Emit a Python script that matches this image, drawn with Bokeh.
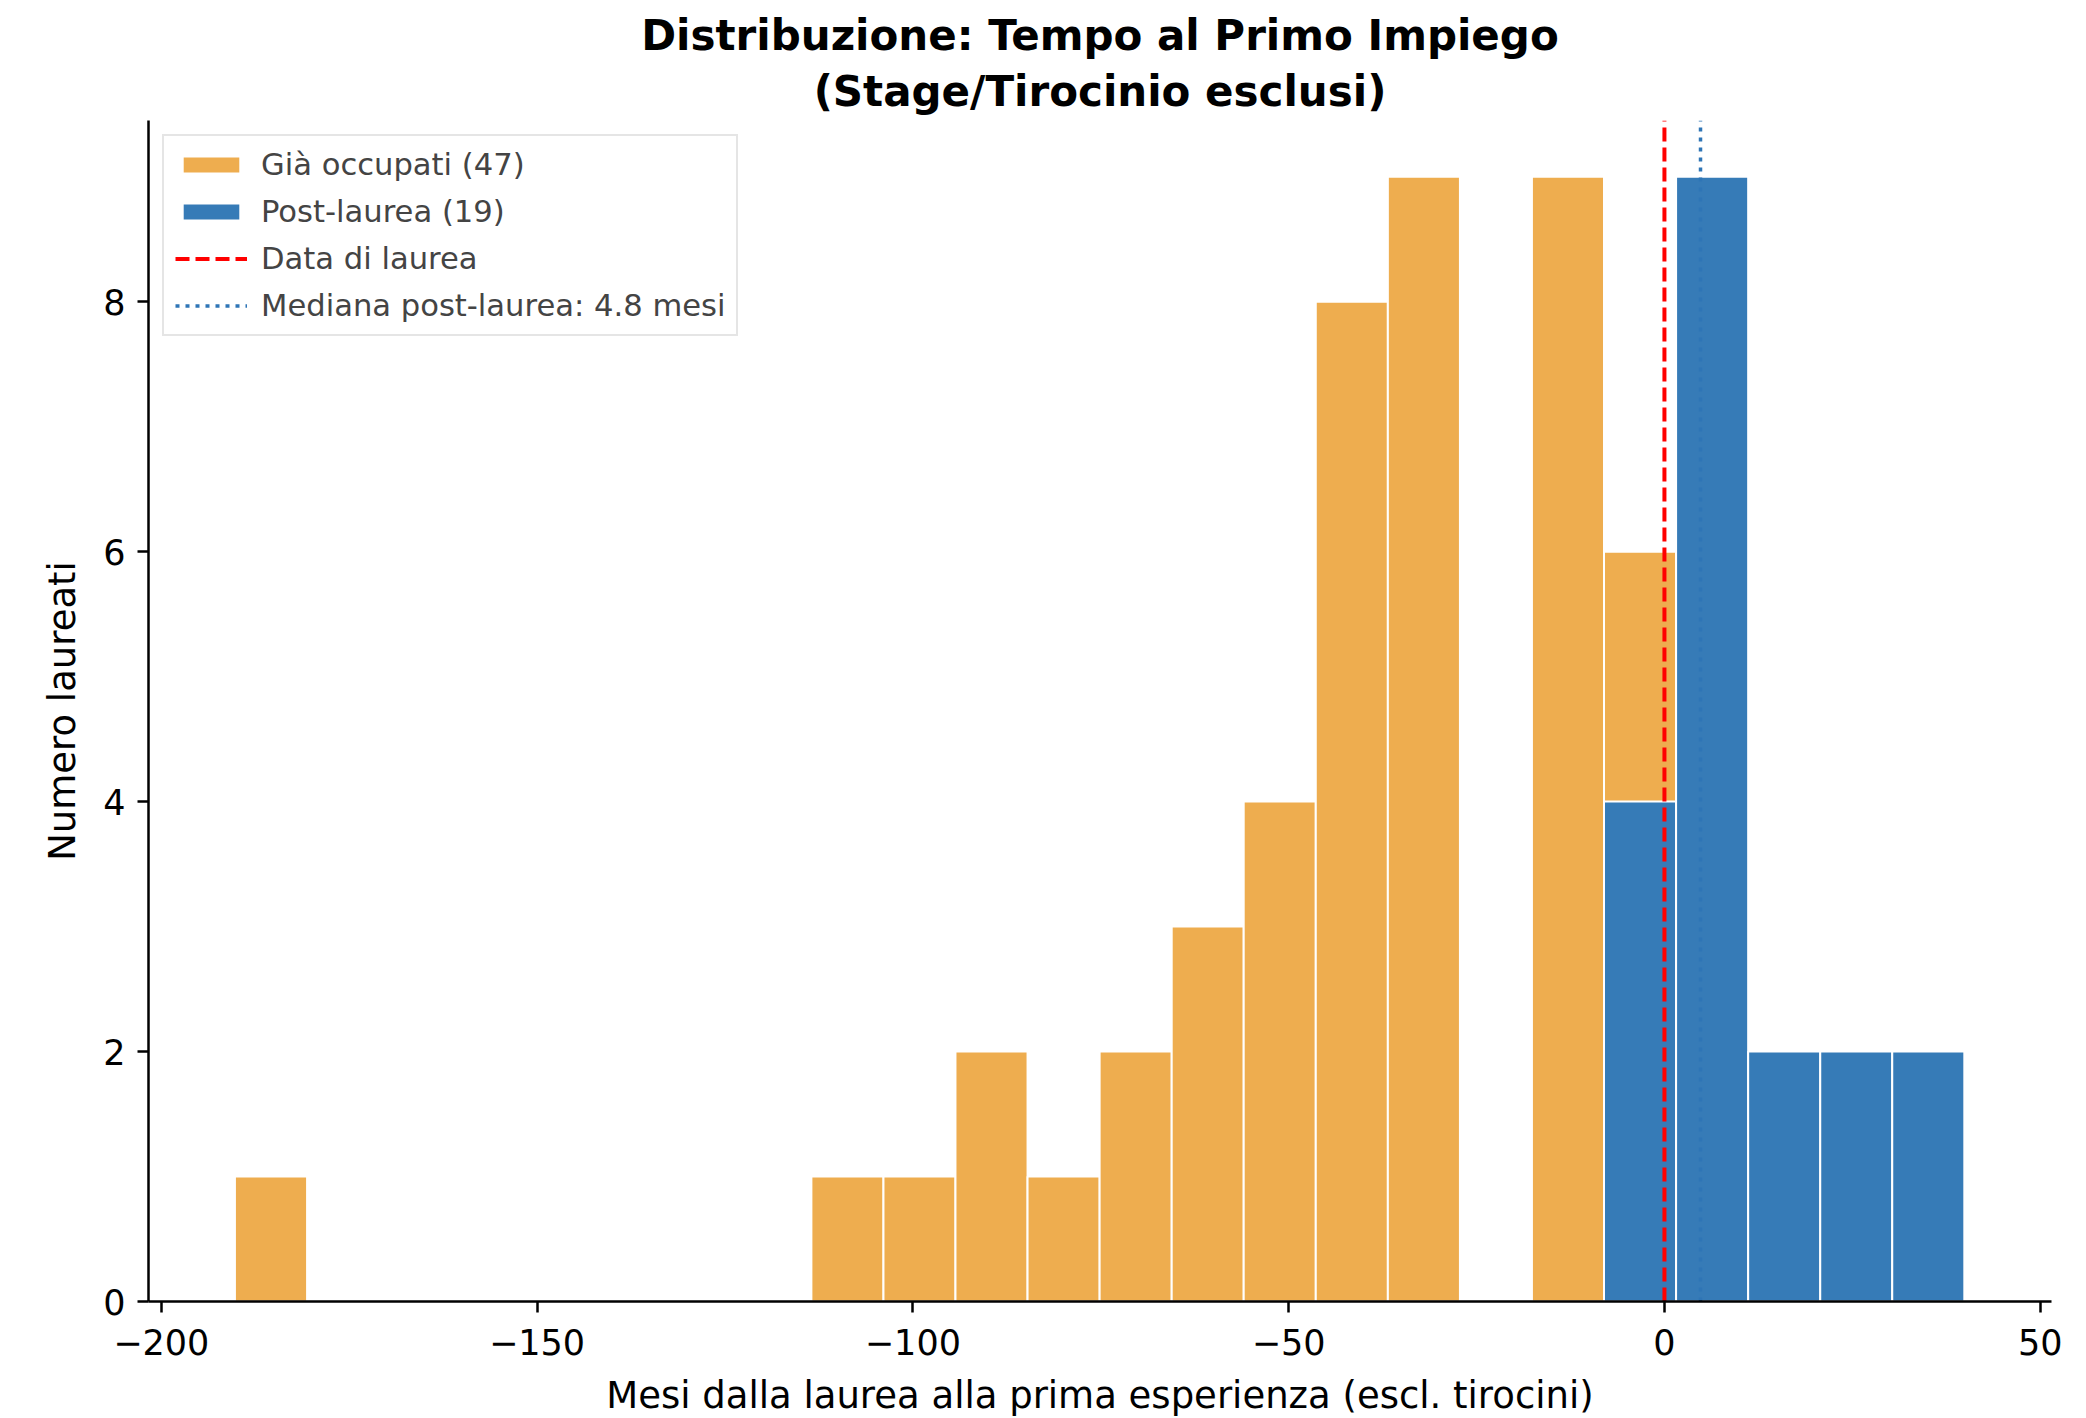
from bokeh.plotting import figure
from bokeh.models import (ColumnDataSource, Range1d, FixedTicker, Title, Legend, LegendItem)
from bokeh.embed import file_html
from bokeh.resources import INLINE

# ---- data ----
bin_edges = [-190.2, -180.6, -171.0, -161.4, -151.85, -142.26, -132.68, -123.09,
             -113.5, -103.91, -94.33, -84.74, -75.15, -65.56, -55.98, -46.39,
             -36.8, -27.21, -17.63, -8.04, 1.55, 11.14, 20.73, 30.31, 39.9]
counts_gia = [1, 0, 0, 0, 0, 0, 0, 0, 1, 1, 2, 1, 2, 3, 4, 8, 9, 0, 9, 6, 0, 0, 0, 0]
counts_post = [0, 0, 0, 0, 0, 0, 0, 0, 0, 0, 0, 0, 0, 0, 0, 0, 0, 0, 0, 4, 9, 2, 2, 2]
graduation = 0.0
median_post = 4.8
x_ticks = [-200, -150, -100, -50, 0, 50]
y_ticks = [0, 2, 4, 6, 8]
label_gia = "Già occupati (47)"
label_post = "Post-laurea (19)"
label_grad = "Data di laurea"
label_median = "Mediana post-laurea: 4.8 mesi"
title_line1 = "Distribuzione: Tempo al Primo Impiego"
title_line2 = "(Stage/Tirocinio esclusi)"

FONT = "DejaVu Sans"
ORANGE = "#EEAD4F"
BLUE = "#367BB7"

def bars(counts):
    left, right, top = [], [], []
    for i, c in enumerate(counts):
        if c > 0:
            left.append(bin_edges[i]); right.append(bin_edges[i + 1]); top.append(c)
    return ColumnDataSource(dict(left=left, right=right, top=top, bottom=[0] * len(top)))

p = figure(frame_width=1903, frame_height=1181, output_backend="svg", toolbar_location=None,
           x_range=Range1d(-201.7, 51.5), y_range=Range1d(0, 9.45),
           min_border_left=148, min_border_right=22, min_border_top=120, min_border_bottom=104,
           background_fill_color="white", border_fill_color="white")
p.outline_line_color = None
p.xgrid.visible = False
p.ygrid.visible = False

r_gia = p.quad(left="left", right="right", top="top", bottom="bottom", source=bars(counts_gia),
               fill_color=ORANGE, line_color="white", line_width=2)
r_post = p.quad(left="left", right="right", top="top", bottom="bottom", source=bars(counts_post),
                fill_color=BLUE, line_color="white", line_width=2)

ytop = p.y_range.end
r_grad = p.line(x=[graduation, graduation], y=[0, ytop], line_color="#FF0000", line_width=4,
                line_dash="14 6")
r_med = p.line(x=[median_post, median_post], y=[0, ytop], line_color="#2E75B6", line_width=3.5,
               line_dash="4 6")

for ax, ticks in ((p.xaxis[0], x_ticks), (p.yaxis[0], y_ticks)):
    ax.ticker = FixedTicker(ticks=ticks)
    ax.major_label_overrides = {t: (("\u2212" + str(abs(t))) if t < 0 else str(t)) for t in ticks}
    ax.minor_tick_line_color = None
    ax.major_tick_in = 0
    ax.major_tick_out = 11
    ax.major_tick_line_width = 2.5
    ax.axis_line_width = 2.5
    ax.axis_line_color = "black"
    ax.major_tick_line_color = "black"
    ax.major_label_text_font = FONT
    ax.major_label_text_font_size = "35px"
    ax.major_label_text_color = "black"
    ax.axis_label_text_font = FONT
    ax.axis_label_text_font_size = "37px"
    ax.axis_label_text_font_style = "normal"
    ax.axis_label_text_color = "black"

p.xaxis.axis_label = "Mesi dalla laurea alla prima esperienza (escl. tirocini)"
p.yaxis.axis_label = "Numero laureati"
p.xaxis.major_label_standoff = 16
p.yaxis.major_label_standoff = 12
p.xaxis.axis_label_standoff = 16
p.yaxis.axis_label_standoff = 16

legend = Legend(items=[LegendItem(label=label_gia, renderers=[r_gia]),
                       LegendItem(label=label_post, renderers=[r_post]),
                       LegendItem(label=label_grad, renderers=[r_grad]),
                       LegendItem(label=label_median, renderers=[r_med])],
                location="top_left", margin=14, padding=11, spacing=12,
                glyph_width=72, glyph_height=21, label_standoff=14,
                label_text_font=FONT, label_text_font_size="30.6px",
                border_line_color="#CCCCCC", border_line_width=2,
                background_fill_alpha=0.8)
p.add_layout(legend, "center")

t2 = Title(text=title_line2, align="center", text_font=FONT, text_font_size="42px",
           text_font_style="bold", text_color="black", standoff=10)
t1 = Title(text=title_line1, align="center", text_font=FONT, text_font_size="42px",
           text_font_style="bold", text_color="black", standoff=0)
p.title = None
p.add_layout(t2, "above")
p.add_layout(t1, "above")

open("out.html", "w").write(file_html(p, INLINE))
